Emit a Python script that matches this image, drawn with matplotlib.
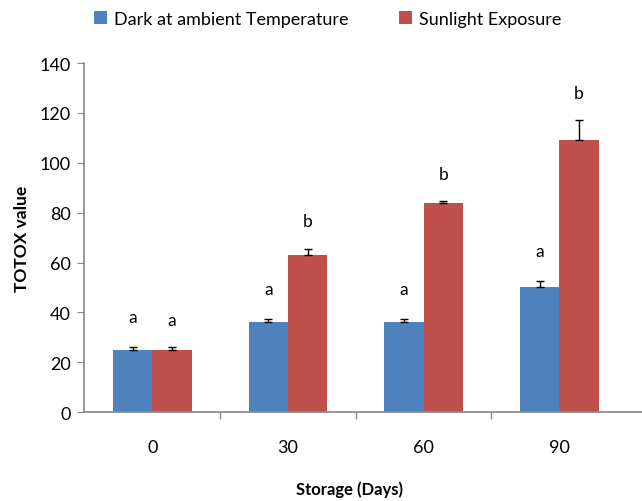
import numpy as np
import matplotlib.pyplot as plt

# TOTOX value over storage time
days = ['0', '30', '60', '90']
dark = [25, 36, 36, 50]
dark_err = [1.0, 1.5, 1.3, 2.5]
sun = [25, 63, 84, 109]
sun_err = [1.0, 2.5, 0.5, 8.0]
dark_letters = ['a', 'a', 'a', 'a']
sun_letters = ['a', 'b', 'b', 'b']

plt.rcParams['font.family'] = ['Lato', 'DejaVu Sans']

fig = plt.figure(figsize=(6.42, 5.02), dpi=100)
ax = fig.add_axes([0.1316, 0.177, 0.8684, 0.6955])

x = np.arange(len(days))
w = 0.29
blue = '#4F81BD'
red = '#C0504D'

ax.bar(x - w/2, dark, w, color=blue, label='Dark at ambient Temperature')
ax.bar(x + w/2, sun, w, color=red, label='Sunlight Exposure')
ax.errorbar(x - w/2, dark, yerr=[np.zeros(4), dark_err], fmt='none',
            ecolor='black', elinewidth=1, capsize=3, capthick=1)
ax.errorbar(x + w/2, sun, yerr=[np.zeros(4), sun_err], fmt='none',
            ecolor='black', elinewidth=1, capsize=3, capthick=1)

for i in range(len(days)):
    ax.text(x[i] - w/2, dark[i] + dark_err[i] + 12, dark_letters[i],
            ha='center', va='center', fontsize=12.5)
    ax.text(x[i] + w/2, sun[i] + sun_err[i] + 11, sun_letters[i],
            ha='center', va='center', fontsize=12.5)

ax.set_ylim(0, 140)
ax.set_xlim(-0.5, 3.61)
ax.set_yticks(range(0, 141, 20))
ax.set_xticks(x)
ax.set_xticklabels(days, fontsize=13)
ax.set_xticks(x[:-1] + 0.5, minor=True)
ax.tick_params(axis='x', which='major', length=0, pad=19)
ax.tick_params(axis='x', which='minor', length=5, color='#868686', width=1)
ax.tick_params(axis='y', length=5, color='#868686', labelsize=13, pad=5)

for s in ['top', 'right']:
    ax.spines[s].set_visible(False)
for s in ['left', 'bottom']:
    ax.spines[s].set_color('#868686')
    ax.spines[s].set_linewidth(1.2)

ax.set_ylabel('TOTOX value', fontsize=12.5, fontweight='bold', labelpad=7)
fig.text(0.545, 0.024, 'Storage (Days)', ha='center', va='center',
         fontsize=12, fontweight='bold')

fig.legend(loc='center', bbox_to_anchor=(0.511, 0.96), ncol=2, frameon=False,
           fontsize=13, handlelength=0.7, handleheight=0.7, handletextpad=0.4,
           columnspacing=2.8)

fig.savefig('out.png', dpi=100)
